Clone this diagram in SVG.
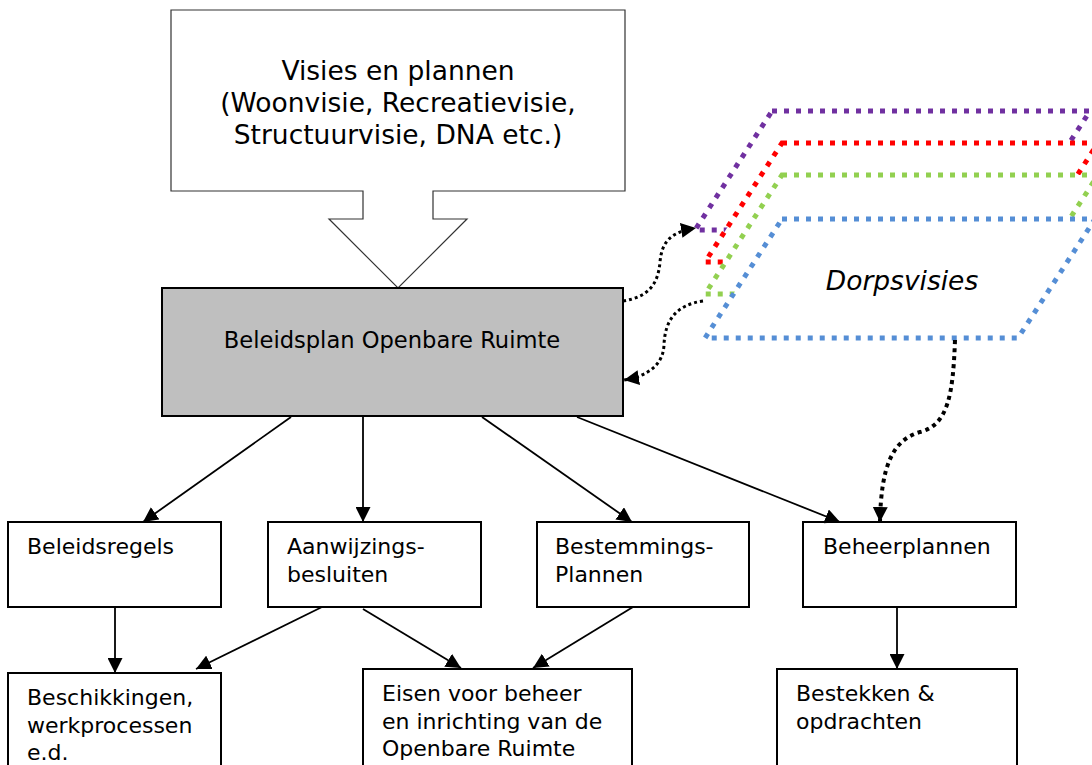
<svg xmlns="http://www.w3.org/2000/svg" width="1092" height="765" viewBox="0 0 1092 765">
<defs>
<style>
text{font-family:"DejaVu Sans",Verdana,sans-serif;fill:#000}
.t{font-size:22px}
.big{font-size:26.5px}
.box{fill:#fff;stroke:#000;stroke-width:2}
.con{fill:none;stroke:#000;stroke-width:1.8}
.dot{fill:none;stroke:#000;stroke-width:3;stroke-dasharray:3 3}
.dot2{fill:none;stroke:#000;stroke-width:4;stroke-dasharray:4 4}
.par{fill:#fff;stroke-width:5;stroke-dasharray:5 7}
</style>
<marker id="arr" markerUnits="userSpaceOnUse" markerWidth="16" markerHeight="15" refX="15" refY="7.5" orient="auto">
<path d="M0,0 L15,7.5 L0,15 z" fill="#000"/>
</marker>
</defs>

<g id="dorpsvisies">
<polygon class="par" stroke="#7030a0" points="772,111 1090,111 1013,230 695,230"/>
<polygon class="par" stroke="#ff0000" points="782,143 1098,143 1021,262 705,262"/>
<polygon class="par" stroke="#92d050" points="782,175 1098,175 1021,294 705,294"/>
<polygon class="par" stroke="#558ed5" points="782,219 1095,219 1018,338 705,338"/>
<text x="902" y="290" text-anchor="middle" font-size="26.5" font-style="italic">Dorpsvisies</text>
</g>

<g id="visies">
<polygon fill="#fff" stroke="#333" stroke-width="1.2" points="171,10 625,10 625,191 433,191 433,219 467,219 398,288 329,219 363,219 363,191 171,191"/>
<text class="big" x="398" y="80" text-anchor="middle">Visies en plannen</text>
<text class="big" x="398" y="112" text-anchor="middle">(Woonvisie, Recreatievisie,</text>
<text class="big" x="398" y="144" text-anchor="middle">Structuurvisie, DNA etc.)</text>
</g>

<g id="beleidsplan">
<rect x="162" y="288" width="461" height="128" fill="#bfbfbf" stroke="#000" stroke-width="2"/>
<text x="392" y="348" text-anchor="middle" font-size="22.6">Beleidsplan Openbare Ruimte</text>
</g>

<g id="beleidsregels">
<rect class="box" x="8" y="522" width="213" height="85"/>
<text class="t" x="27" y="554">Beleidsregels</text>
</g>

<g id="aanwijzingsbesluiten">
<rect class="box" x="268" y="522" width="213" height="85"/>
<text class="t" x="287" y="554">Aanwijzings-</text>
<text class="t" x="287" y="582">besluiten</text>
</g>

<g id="bestemmingsplannen">
<rect class="box" x="537" y="522" width="212" height="85"/>
<text class="t" x="555" y="554">Bestemmings-</text>
<text class="t" x="555" y="582">Plannen</text>
</g>

<g id="beheerplannen">
<rect class="box" x="803" y="522" width="213" height="85"/>
<text class="t" x="823" y="554">Beheerplannen</text>
</g>

<g id="beschikkingen">
<rect class="box" x="8" y="673" width="213" height="100"/>
<text class="t" x="27" y="705">Beschikkingen,</text>
<text class="t" x="27" y="733">werkprocessen</text>
<text class="t" x="27" y="760">e.d.</text>
</g>

<g id="eisen">
<rect class="box" x="363" y="669" width="269" height="100"/>
<text class="t" x="382" y="701">Eisen voor beheer</text>
<text class="t" x="382" y="729">en inrichting van de</text>
<text class="t" x="382" y="756">Openbare Ruimte</text>
</g>

<g id="bestekken">
<rect class="box" x="777" y="669" width="240" height="100"/>
<text class="t" x="796" y="701">Bestekken &amp;</text>
<text class="t" x="796" y="729">opdrachten</text>
</g>

<g id="connectors">
<path class="con" marker-end="url(#arr)" d="M291,417 L143,522"/>
<path class="con" marker-end="url(#arr)" d="M363,417 L363,522"/>
<path class="con" marker-end="url(#arr)" d="M482,417 L632,522"/>
<path class="con" marker-end="url(#arr)" d="M577,417 L840,522"/>
<path class="con" marker-end="url(#arr)" d="M115,607 L115,673"/>
<path class="con" marker-end="url(#arr)" d="M322,607 L196,669"/>
<path class="con" marker-end="url(#arr)" d="M363,609 L461,668"/>
<path class="con" marker-end="url(#arr)" d="M633,607 L533,668"/>
<path class="con" marker-end="url(#arr)" d="M897,607 L897,669"/>
<path class="dot" marker-end="url(#arr)" d="M623,301 C648,297 658,285 660,262 C662,240 672,232 696,228"/>
<path class="dot" marker-end="url(#arr)" d="M703,301 C676,305 665,320 664,345 C663,365 648,376 624,380"/>
<path class="dot2" marker-end="url(#arr)" d="M955,340 C953,395 948,425 920,432 C893,440 881,465 880,522"/>
</g>
</svg>
